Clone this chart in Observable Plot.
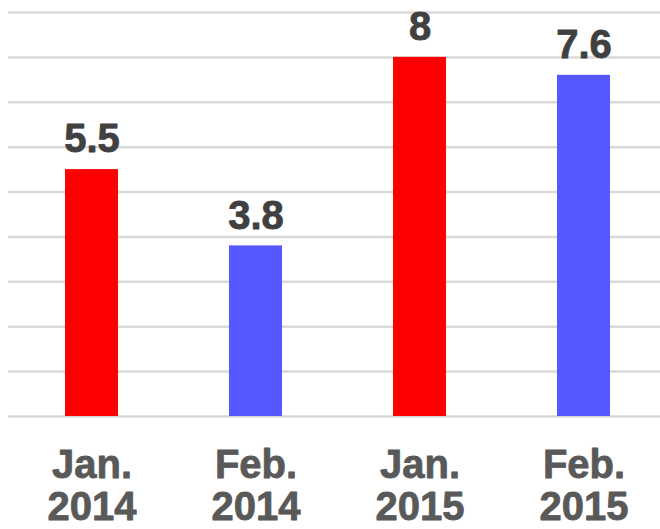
<!DOCTYPE html>
<html>
<head>
<meta charset="utf-8">
<script src="https://cdn.jsdelivr.net/npm/d3@7"></script>
<script src="https://cdn.jsdelivr.net/npm/@observablehq/plot@0.6"></script>
<style>
  html, body { margin: 0; padding: 0; background: #fff; }
  #chart { width: 660px; height: 529px; overflow: hidden; }
</style>
</head>
<body>
<div id="chart"></div>
<script>
const months = ["Jan.", "Feb.", "Jan.", "Feb."];
const years = ["2014", "2014", "2015", "2015"];
const values = [5.5, 3.8, 8, 7.6];
const barColors = ["#ff0000", "#5757ff", "#ff0000", "#5757ff"];
const gridTicks = [0, 1, 2, 3, 4, 5, 6, 7, 8, 9];

const data = months.map((m, i) => ({
  key: m + " " + years[i],
  label: m + "\n" + years[i],
  value: values[i],
  color: barColors[i]
}));

const font = "'Liberation Sans', Arial, sans-serif";

const chart = Plot.plot({
  width: 660,
  height: 529,
  marginLeft: 8,
  marginRight: 0,
  marginTop: 12,
  marginBottom: 113,
  style: { fontFamily: font, background: "#fff", overflow: "visible" },
  x: { domain: data.map(d => d.key), range: [9.35, 666.5], paddingInner: 0.677, paddingOuter: 0.3385, axis: null },
  y: { domain: [0, 9], axis: null },
  marks: [
    Plot.ruleY(gridTicks, { stroke: "#d9d9d9", strokeWidth: 2.5 }),
    Plot.barY(data, { x: "key", y: "value", fill: "color" }),
    Plot.text(data, {
      x: "key", y: "value", text: d => String(d.value),
      dy: -30, fontSize: 40, fontWeight: "bold", fill: "#404040",
      stroke: "#404040", strokeWidth: 0.8
    }),
    Plot.text(data, {
      x: "key", text: "label", frameAnchor: "bottom", lineAnchor: "top",
      dy: 31, lineHeight: 1.06, fontSize: 40, fontWeight: "bold", fill: "#595959",
      stroke: "#595959", strokeWidth: 0.8
    })
  ]
});
document.getElementById("chart").appendChild(chart);
</script>
</body>
</html>
